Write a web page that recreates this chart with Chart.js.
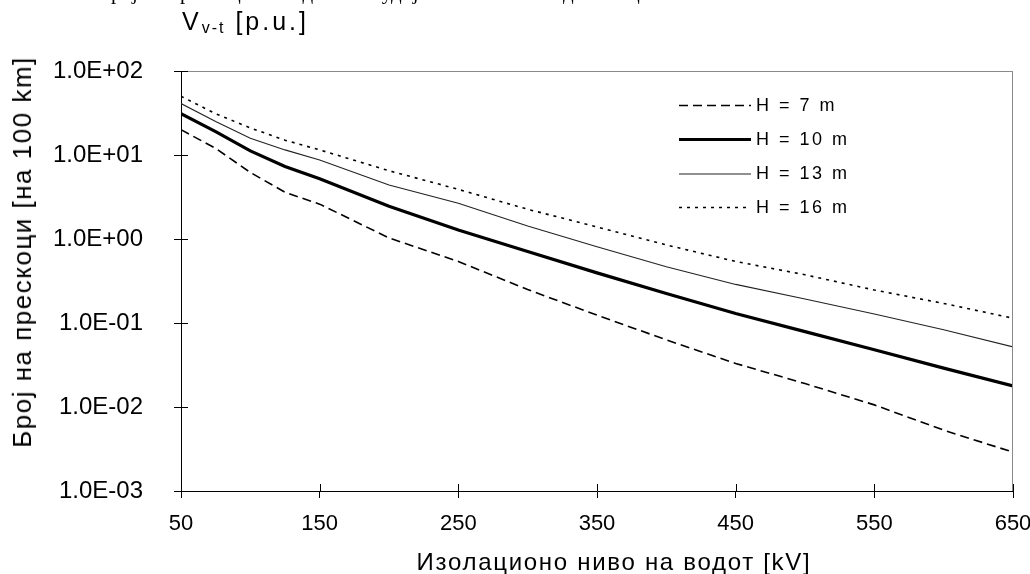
<!DOCTYPE html>
<html>
<head>
<meta charset="utf-8">
<script src="https://cdn.jsdelivr.net/npm/chart.js@4"></script>
<style>
  html, body { margin: 0; padding: 0; background: #fff; }
  #wrap { position: relative; width: 1030px; height: 574px; overflow: hidden; }
  canvas { position: absolute; left: 0; top: 0; }
  #cut { position: absolute; left: 2px; top: -20px; font: 21px "Liberation Serif"; white-space: nowrap; color: #000; }
  #vlabel { position: absolute; left: 182px; top: 9px; font: 25px/24px "Liberation Sans"; letter-spacing: 3px; color: #000; white-space: nowrap; }
  #vlabel sub { font-size: 16px; letter-spacing: 2px; vertical-align: -3px; line-height: 0; }
  #ytitle { position: absolute; left: 22px; top: 252px; font: 26px/26px "Liberation Sans"; letter-spacing: 1.5px;
            white-space: nowrap; color: #000; transform: translate(-50%, -50%) rotate(-90deg); }
  #xtitle { position: absolute; left: 614px; top: 550px; font: 24px/24px "Liberation Sans"; letter-spacing: 1.7px;
            white-space: nowrap; color: #000; transform: translateX(-50%); }
</style>
</head>
<body>
<div id="wrap">
  <canvas id="chart" width="1030" height="574"></canvas>
  <div id="cut">Слика 4.3. Број на прескоци на водот во студија на зависност од изолационото ниво</div>
  <div id="vlabel">V<sub>v-t</sub> [p.u.]</div>
  <div id="ytitle">Број на прескоци [на 100 km]</div>
  <div id="xtitle">Изолационо ниво на водот [kV]</div>
</div>
<script>
// изолационо ниво [kV]
const voltages = [50, 75, 100, 125, 150, 200, 250, 300, 350, 400, 450, 500, 550, 600, 650];

// број на прескоци [на 100 km] за секоја висина
const h7 = [20, 12, 6.2, 3.6, 2.6, 1.03, 0.54, 0.25, 0.124, 0.063, 0.033, 0.019, 0.0106, 0.0053, 0.0029];
const h10 = [31, 19, 11.2, 7.3, 5.2, 2.45, 1.28, 0.71, 0.395, 0.225, 0.13, 0.079, 0.048, 0.029, 0.0178];
const h13 = [41, 25, 15.8, 11.5, 8.7, 4.4, 2.66, 1.43, 0.81, 0.468, 0.288, 0.193, 0.128, 0.083, 0.052];
const h16 = [50, 31, 21, 15, 11.5, 6.5, 3.9, 2.26, 1.39, 0.85, 0.54, 0.375, 0.247, 0.171, 0.114];

const series_labels = ["H = 7 m", "H = 10 m", "H = 13 m", "H = 16 m"];
const x_ticks = [50, 150, 250, 350, 450, 550, 650];
const y_ticks = [0.001, 0.01, 0.1, 1, 10, 100];
const y_tick_labels = ["1.0E-03", "1.0E-02", "1.0E-01", "1.0E+00", "1.0E+01", "1.0E+02"];

function toPoints(values) {
  return voltages.map((v, i) => ({ x: v, y: values[i] }));
}

// рамка, внатрешни делови од цртичките и легенда во графикот
const framePlugin = {
  id: "frame",
  afterDraw(chart) {
    const ctx = chart.ctx;
    const { left, right, top, bottom } = chart.chartArea;
    const xs = chart.scales.x;
    const ys = chart.scales.y;
    ctx.save();

    ctx.strokeStyle = "#8a8a8a";
    ctx.lineWidth = 1;
    ctx.beginPath();
    ctx.moveTo(left, top + 0.5);
    ctx.lineTo(right, top + 0.5);
    ctx.moveTo(right - 0.5, top);
    ctx.lineTo(right - 0.5, bottom);
    ctx.stroke();

    ctx.strokeStyle = "#000";
    ctx.beginPath();
    xs.ticks.forEach((t) => {
      const px = Math.round(xs.getPixelForValue(t.value)) + 0.5;
      ctx.moveTo(px, bottom);
      ctx.lineTo(px, bottom - 7);
    });
    ys.ticks.forEach((t) => {
      const py = Math.round(ys.getPixelForValue(t.value)) + 0.5;
      ctx.moveTo(left, py);
      ctx.lineTo(left + 7, py);
    });
    ctx.stroke();

    // легенда
    const rows = [105.5, 139.5, 174, 207.5];
    ctx.font = '18px "Liberation Sans"';
    ctx.letterSpacing = "2.5px";
    ctx.textBaseline = "middle";
    ctx.fillStyle = "#000";
    chart.data.datasets.forEach((ds, i) => {
      ctx.beginPath();
      ctx.strokeStyle = ds.borderColor;
      ctx.lineWidth = ds.borderWidth;
      ctx.setLineDash(ds.borderDash || []);
      ctx.moveTo(679, rows[i]);
      ctx.lineTo(751, rows[i]);
      ctx.stroke();
      ctx.setLineDash([]);
      ctx.fillText(ds.label, 756, rows[i] + 0.5);
    });
    ctx.restore();
  },
};

const ctx_chart = document.getElementById("chart").getContext("2d");

let chart = new Chart(ctx_chart, {
  type: "line",
  data: {
    datasets: [
      {
        label: series_labels[0],
        data: toPoints(h7),
        borderColor: "#000",
        borderWidth: 1.6,
        borderDash: [9, 5],
        pointRadius: 0,
        fill: false,
      },
      {
        label: series_labels[1],
        data: toPoints(h10),
        borderColor: "#000",
        borderWidth: 3.2,
        pointRadius: 0,
        fill: false,
      },
      {
        label: series_labels[2],
        data: toPoints(h13),
        borderColor: "#222",
        borderWidth: 1.1,
        pointRadius: 0,
        fill: false,
      },
      {
        label: series_labels[3],
        data: toPoints(h16),
        borderColor: "#000",
        borderWidth: 1.6,
        borderDash: [3, 5],
        pointRadius: 0,
        fill: false,
      },
    ],
  },
  options: {
    responsive: false,
    animation: false,
    layout: { padding: { left: 0, top: 71, right: 17, bottom: 0 } },
    plugins: { legend: { display: false }, tooltip: { enabled: false } },
    scales: {
      x: {
        type: "linear",
        min: 50,
        max: 650,
        afterBuildTicks: (s) => {
          s.ticks = x_ticks.map((v) => ({ value: v }));
        },
        afterFit: (s) => {
          s.height = 83;
          s.paddingLeft = 0;
          s.paddingRight = 0;
        },
        grid: { drawOnChartArea: false, tickLength: 7, color: "#000" },
        border: { display: true, color: "#000", width: 1 },
        ticks: {
          color: "#000",
          padding: 13,
          maxRotation: 0,
          font: { family: "Liberation Sans", size: 22 },
        },
      },
      y: {
        type: "logarithmic",
        min: 0.001,
        max: 100,
        afterBuildTicks: (s) => {
          s.ticks = y_ticks.map((v) => ({ value: v }));
        },
        afterFit: (s) => {
          s.width = 181;
          s.paddingTop = 0;
          s.paddingBottom = 0;
        },
        grid: { drawOnChartArea: false, tickLength: 7, color: "#000" },
        border: { display: true, color: "#000", width: 1 },
        ticks: {
          color: "#000",
          padding: 31,
          font: { family: "Liberation Sans", size: 24 },
          callback: (v) => y_tick_labels[y_ticks.indexOf(v)],
        },
      },
    },
  },
  plugins: [framePlugin],
});
</script>
</body>
</html>
